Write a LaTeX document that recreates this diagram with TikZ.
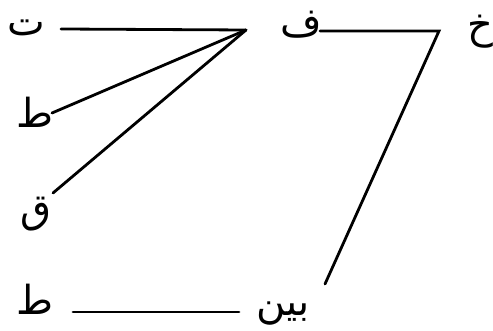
\documentclass[tikz,border=0pt]{standalone}
\usepackage{fontspec}
\newfontfamily\arabicfont[Script=Arabic]{DejaVu Sans}
\TeXXeTstate=1
\tikzset{
  lbl/.style={inner sep=0pt, font=\arabicfont\fontsize{40}{46}\selectfont},
  conn/.style={draw=black, line width=2.8pt, line cap=round},
}
\begin{document}
\begin{tikzpicture}[x=1pt,y=-1pt]
\useasboundingbox (0,0) rectangle (493,331);
% labels
\node[lbl] (t)    at (26,28)  {\beginR ت\endR};
\node[lbl] (ta1)  at (35,112) {\beginR ط\endR};
\node[lbl] (q)    at (36,214) {\beginR ق\endR};
\node[lbl] (ta2)  at (35,299) {\beginR ط\endR};
\node[lbl] (f)    at (301,25) {\beginR ف\endR};
\node[lbl] (kh)   at (480,32) {\beginR خ\endR};
\node[lbl] (bayn) at (283,314) {\beginR بين\endR};
% connector points
\coordinate (tR) at (61,29);
\coordinate (v)  at (246,30);
\coordinate (ta1R) at (52,113);
\coordinate (qR) at (53,193);
\coordinate (fR) at (320,31);
\coordinate (w)  at (439,31);
\coordinate (bT) at (325,284);
\coordinate (ta2R) at (73,312);
\coordinate (bL) at (239,312);
% connectors
\draw[conn] (tR) -- (v);
\draw[conn] (v) -- (ta1R);
\draw[conn] (v) -- (qR);
\draw[conn] (fR) -- (w) -- (bT);
\draw[conn] (ta2R) -- (bL);
\end{tikzpicture}
\end{document}
